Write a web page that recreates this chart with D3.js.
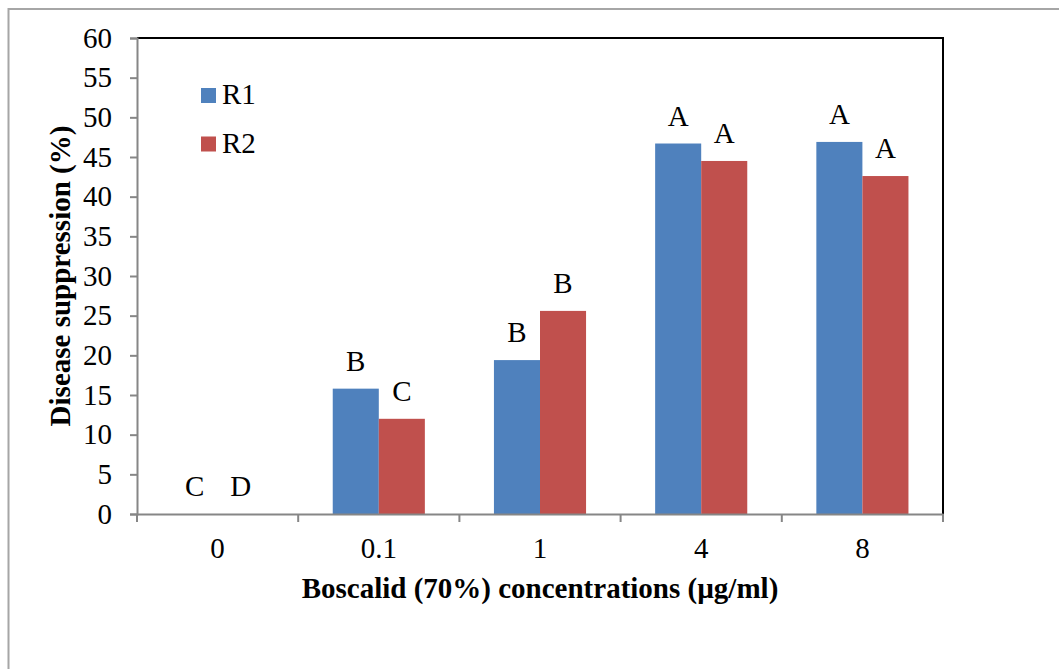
<!DOCTYPE html>
<html><head><meta charset="utf-8">
<script src="https://cdn.jsdelivr.net/npm/d3@7"></script>
<style>body{margin:0;background:#fff}svg{display:block;font-family:"Liberation Serif","Times New Roman",serif}</style>
</head><body><svg id="c" width="1059" height="669"></svg>
<script>
const categories = ["0", "0.1", "1", "4", "8"];
const seriesNames = ["R1", "R2"];
const r1Values = [0, 15.8, 19.4, 46.7, 46.9];
const r2Values = [0, 12.0, 25.6, 44.5, 42.6];
const r1Letters = ["C", "B", "B", "A", "A"];
const r2Letters = ["D", "C", "B", "A", "A"];
const yTicks = [0, 5, 10, 15, 20, 25, 30, 35, 40, 45, 50, 55, 60];
const colors = ["#4f81bd", "#c0504d"];

const FS = 29;
const FF = "Liberation Serif, Times New Roman, serif";
const svg = d3.select("#c");
const L = 137, R = 943, T = 38, B = 514;

// outer frame
svg.append("rect").attr("x", 8.5).attr("y", 9).attr("width", 1100).attr("height", 700)
  .attr("fill", "none").attr("stroke", "#a6a6a6").attr("stroke-width", 2);

const x0 = d3.scaleBand().domain(categories).range([L, R]);
const bw = x0.bandwidth() / 3.5;
const x1 = d3.scaleBand().domain(seriesNames).range([0, 2 * bw]);
const y = d3.scaleLinear().domain([0, 60]).range([B, T]);

// plot area frame top/right black
svg.append("path").attr("d", `M${L},${T}H${R}V${B}`).attr("fill", "none").attr("stroke", "#000").attr("stroke-width", 2);

const data = categories.map((c, i) => ({c, vals: [
  {s: "R1", v: r1Values[i], t: r1Letters[i]},
  {s: "R2", v: r2Values[i], t: r2Letters[i]}]}));

const g = svg.append("g").selectAll("g").data(data).join("g")
  .attr("transform", d => `translate(${x0(d.c) + (x0.bandwidth() - 2 * bw) / 2},0)`);
g.selectAll("rect").data(d => d.vals).join("rect")
  .attr("x", d => x1(d.s)).attr("width", bw)
  .attr("y", d => y(d.v)).attr("height", d => B - y(d.v))
  .attr("fill", (d, i) => colors[i]);
g.selectAll("text").data(d => d.vals).join("text")
  .attr("x", d => x1(d.s) + bw / 2).attr("y", d => y(d.v) - 18)
  .attr("text-anchor", "middle").attr("font-size", FS).attr("font-family", FF).attr("fill", "#000")
  .text(d => d.t);

// y axis
const ya = svg.append("g").attr("transform", `translate(${L},0)`)
  .call(d3.axisLeft(y).tickValues(yTicks).tickSize(7).tickPadding(18));
ya.select(".domain").attr("stroke", "#868686").attr("stroke-width", 2);
ya.selectAll(".tick line").attr("stroke", "#868686").attr("stroke-width", 2);
ya.selectAll(".tick text").attr("font-size", FS).attr("font-family", FF).attr("fill", "#000");

// x axis
const xa = svg.append("g").attr("transform", `translate(0,${B})`)
  .call(d3.axisBottom(x0).tickSize(0).tickPadding(23));
xa.select(".domain").attr("stroke", "#868686").attr("stroke-width", 2);
xa.selectAll(".tick text").attr("font-size", FS).attr("font-family", FF).attr("fill", "#000");
const edges = categories.map(c => x0(c)).concat([R]);
svg.append("g").selectAll("line").data(edges).join("line")
  .attr("x1", d => d).attr("x2", d => d).attr("y1", B).attr("y2", B + 8)
  .attr("stroke", "#868686").attr("stroke-width", 2);

// titles
svg.append("text").attr("transform", `translate(70,${(T + B) / 2}) rotate(-90)`)
  .attr("text-anchor", "middle").attr("font-size", FS).attr("font-weight", "bold").attr("font-family", FF)
  .text("Disease suppression (%)");
svg.append("text").attr("x", (L + R) / 2).attr("y", 598)
  .attr("text-anchor", "middle").attr("font-size", FS).attr("font-weight", "bold").attr("font-family", FF)
  .text("Boscalid (70%) concentrations (µg/ml)");

// legend
const lg = svg.append("g").selectAll("g").data(seriesNames).join("g")
  .attr("transform", (d, i) => `translate(201,${88 + i * 48.5})`);
lg.append("rect").attr("width", 15).attr("height", 15).attr("fill", (d, i) => colors[i]);
lg.append("text").attr("x", 21).attr("y", 16).attr("font-size", FS).attr("font-family", FF).text(d => d);
</script></body></html>
